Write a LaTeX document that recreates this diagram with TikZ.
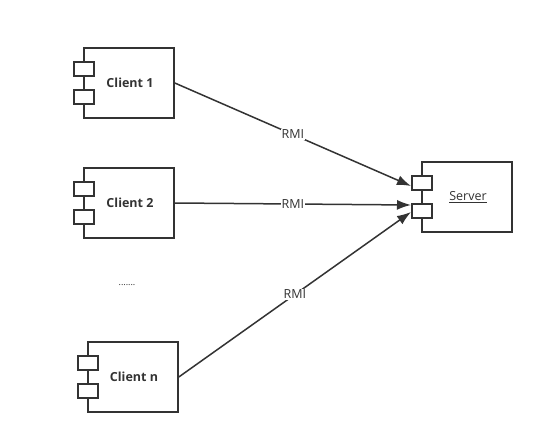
\documentclass[tikz,border=0pt]{standalone}
\usepackage{fontspec}
\setmainfont{Open Sans}
\usetikzlibrary{arrows.meta}
\definecolor{ink}{HTML}{333333}
\begin{document}
\begin{tikzpicture}[x=1pt,y=-1pt,
  comp/.style={draw=ink,line width=1.6pt,fill=white,minimum width=90pt,minimum height=70pt,inner sep=0pt,font=\fontsize{12.5}{14}\selectfont\bfseries,text=ink},
  port/.style={draw=ink,line width=1.6pt,fill=white,minimum width=20pt,minimum height=14pt,inner sep=0pt},
  conn/.style={draw=ink,line width=1.5pt,-{Latex[length=14pt,width=10pt]}},
  lbl/.style={fill=white,inner sep=1pt,font=\fontsize{12.5}{14}\selectfont,text=ink}]
\useasboundingbox (0,0) rectangle (544,444);
\fill[white] (0,0) rectangle (544,444);
% clients
\node[comp] (c1) at (129,83) {\hspace*{2pt}Client 1};
\node[port] (c1a) at (84,69) {};
\node[port] (c1b) at (84,97) {};
\node[comp] (c2) at (129,203) {\hspace*{2pt}Client 2};
\node[port] (c2a) at (84,189) {};
\node[port] (c2b) at (84,217) {};
\node[comp] (cn) at (133,377) {\hspace*{2pt}Client n};
\node[port] (cna) at (88,363) {};
\node[port] (cnb) at (88,391) {};
% server
\node[comp,font=\fontsize{12.5}{14}\selectfont] (s) at (467,197) {\hspace*{2pt}\underline{Server}};
\node[port] (sa) at (422,183) {};
\node[port] (sb) at (422,211) {};
% dots
\node[font=\fontsize{9}{10}\selectfont,text=ink] (dots) at (127,285) {.......};
% connectors
\coordinate (e1) at (411,186);
\coordinate (e2) at (411,205);
\coordinate (e3) at (411,212);
\draw[conn] (c1.east) -- node[lbl,pos=0.5] (r1) {RMI} (e1);
\draw[conn] (c2.east) -- node[lbl,pos=0.5] (r2) {RMI} (e2);
\draw[conn] (cn.east) -- node[lbl,pos=0.5] (r3) {RMI} (e3);
\end{tikzpicture}
\end{document}
